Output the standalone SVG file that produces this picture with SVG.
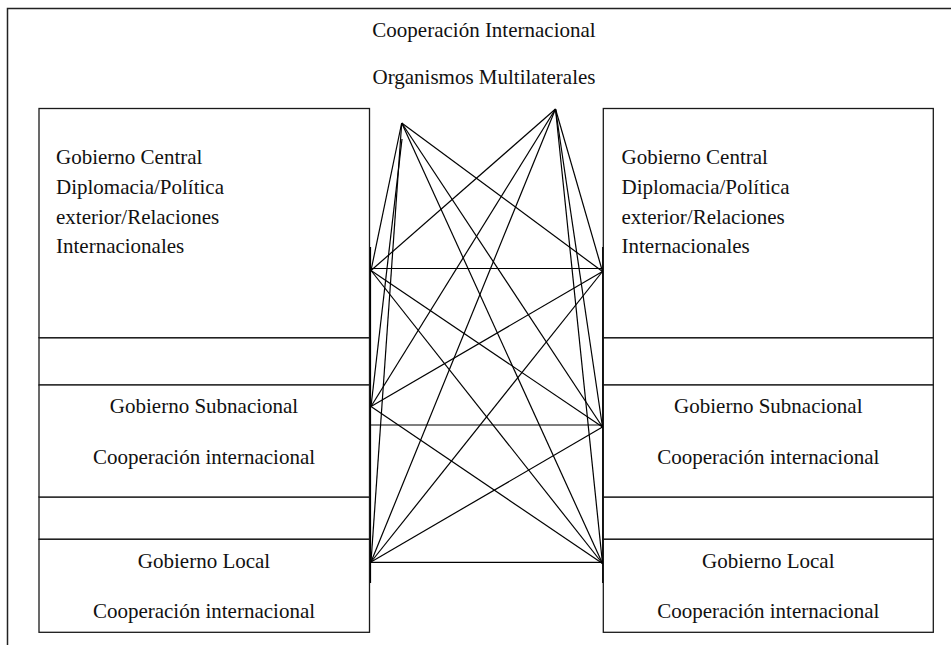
<svg xmlns="http://www.w3.org/2000/svg" width="951" height="645" viewBox="0 0 951 645">
<style>
.box{fill:#fff;stroke:#1a1a1a;stroke-width:1.3}
.gap{fill:#fff;stroke:#1a1a1a;stroke-width:1.3}
.t{font-family:"Liberation Serif","Times New Roman",serif;font-size:21px;fill:#111}
.m{text-anchor:middle}
.c line{stroke:#000;stroke-width:1.2}
.bar{stroke:#000;stroke-width:1.6}
</style>
<rect x="7.5" y="8.5" width="970" height="660" fill="#fff" stroke="#222" stroke-width="1.5"/>
<g id="title">
<text class="t m" x="484" y="37">Cooperación Internacional</text>
<text class="t m" x="484" y="84">Organismos Multilaterales</text>
</g>
<g id="left-gaps">
<rect class="gap" x="39" y="337.7" width="330.5" height="47.3"/>
<rect class="gap" x="39" y="497" width="330.5" height="42.3"/>
</g>
<g id="right-gaps">
<rect class="gap" x="603.3" y="337.7" width="330" height="47.3"/>
<rect class="gap" x="603.3" y="497" width="330" height="42.3"/>
</g>
<g id="left-central">
<rect class="box" x="39" y="108.5" width="330.5" height="229.2"/>
<text class="t" x="56" y="164">Gobierno Central</text>
<text class="t" x="56" y="194">Diplomacia/Política</text>
<text class="t" x="56" y="224">exterior/Relaciones</text>
<text class="t" x="56" y="253">Internacionales</text>
</g>
<g id="left-subnacional">
<rect class="box" x="39" y="385" width="330.5" height="112"/>
<text class="t m" x="204" y="413">Gobierno Subnacional</text>
<text class="t m" x="204" y="464">Cooperación internacional</text>
</g>
<g id="left-local">
<rect class="box" x="39" y="539.3" width="330.5" height="93"/>
<text class="t m" x="204" y="568">Gobierno Local</text>
<text class="t m" x="204" y="618">Cooperación internacional</text>
</g>
<g id="right-central">
<rect class="box" x="603.3" y="108.5" width="330" height="229.2"/>
<text class="t" x="621.5" y="164">Gobierno Central</text>
<text class="t" x="621.5" y="194">Diplomacia/Política</text>
<text class="t" x="621.5" y="224">exterior/Relaciones</text>
<text class="t" x="621.5" y="253">Internacionales</text>
</g>
<g id="right-subnacional">
<rect class="box" x="603.3" y="385" width="330" height="112"/>
<text class="t m" x="768.3" y="413">Gobierno Subnacional</text>
<text class="t m" x="768.3" y="464">Cooperación internacional</text>
</g>
<g id="right-local">
<rect class="box" x="603.3" y="539.3" width="330" height="93"/>
<text class="t m" x="768.3" y="568">Gobierno Local</text>
<text class="t m" x="768.3" y="618">Cooperación internacional</text>
</g>
<g id="connectors" class="c">
<line class="bar" x1="370.5" y1="247" x2="370.5" y2="583"/>
<line class="bar" x1="602.7" y1="247" x2="602.7" y2="583"/>
<!-- apex A -->
<line x1="401.7" y1="123" x2="371" y2="270.5"/>
<line x1="402" y1="139" x2="371" y2="406.5"/>
<line x1="401.7" y1="123" x2="371" y2="562"/>
<line x1="401.7" y1="123" x2="602.5" y2="271.5"/>
<line x1="401.7" y1="123" x2="602.5" y2="427"/>
<line x1="401.7" y1="123" x2="602.5" y2="563.5"/>
<!-- apex B -->
<line x1="555.5" y1="109" x2="371" y2="270.5"/>
<line x1="555.5" y1="109" x2="371" y2="406.5"/>
<line x1="555.5" y1="109" x2="371" y2="562"/>
<line x1="555.5" y1="109" x2="602.5" y2="271.5"/>
<line x1="555.5" y1="109" x2="602.5" y2="427"/>
<line x1="555.5" y1="109" x2="602.5" y2="563.5"/>
<!-- left to right -->
<line x1="371" y1="268.5" x2="602.5" y2="268.5"/>
<line x1="371" y1="270.5" x2="602.5" y2="427"/>
<line x1="371" y1="270.5" x2="602.5" y2="563.5"/>
<line x1="371" y1="406.5" x2="602.5" y2="271.5"/>
<line x1="371" y1="425" x2="602.5" y2="425"/>
<line x1="371" y1="406.5" x2="602.5" y2="563.5"/>
<line x1="371" y1="562" x2="602.5" y2="271.5"/>
<line x1="371" y1="562" x2="602.5" y2="427"/>
<line x1="371" y1="562.3" x2="602.5" y2="562.3"/>
</g>
</svg>
